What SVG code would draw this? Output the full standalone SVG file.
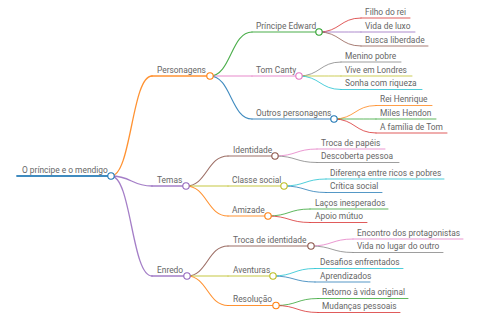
<svg xmlns="http://www.w3.org/2000/svg" width="480" height="320" viewBox="0 0 480 320">
<style>
text{font-family:Roboto,"Liberation Sans",sans-serif;font-size:8.4px;fill:#666}
path{fill:none;stroke-linecap:round;stroke-opacity:0.85}
.l1{stroke-width:1.3}.l2{stroke-width:1.1}.l3{stroke-width:0.9}
circle{fill:#fff;stroke-width:1.1}
.blue{stroke:#1f77b4}.orange{stroke:#ff7f0e}.green{stroke:#2ca02c}.red{stroke:#d62728}.purple{stroke:#9467bd}.brown{stroke:#8c564b}.pink{stroke:#e377c2}.grey{stroke:#7f7f7f}.olive{stroke:#bcbd22}.cyan{stroke:#17becf}
</style>
<rect width="480" height="320" fill="#fff"/>
<g id="connectors">
<path class="l1 orange" d="M111,176 C131.5,176 131.5,76 152,76"/>
<path class="l1 purple" d="M111,176 C131.5,176 131.5,186 152,186"/>
<path class="l1 purple" d="M111,176 C131.5,176 131.5,276 152,276"/>
<path class="l2 green" d="M210,76 C231,76 231,32 252,32"/>
<path class="l2 pink" d="M210,76 C231,76 231,76 252,76"/>
<path class="l2 blue" d="M210,76 C231,76 231,119 252,119"/>
<path class="l2 brown" d="M186,186 C207,186 207,156 228,156"/>
<path class="l2 olive" d="M186,186 C207,186 207,186 228,186"/>
<path class="l2 orange" d="M186,186 C207,186 207,216 228,216"/>
<path class="l2 brown" d="M187,276 C207.5,276 207.5,246 228,246"/>
<path class="l2 olive" d="M187,276 C207.5,276 207.5,276 228,276"/>
<path class="l2 orange" d="M187,276 C207.5,276 207.5,305.5 228,305.5"/>
<path class="l3 red" d="M319,32 C340,32 340,18 361,18"/>
<path class="l3 purple" d="M319,32 C340,32 340,32 361,32"/>
<path class="l3 brown" d="M319,32 C340,32 340,46 361,46"/>
<path class="l3 grey" d="M299,76 C320,76 320,62 341,62"/>
<path class="l3 olive" d="M299,76 C320,76 320,76 341,76"/>
<path class="l3 cyan" d="M299,76 C320,76 320,89.5 341,89.5"/>
<path class="l3 orange" d="M334,119 C355,119 355,105.5 376,105.5"/>
<path class="l3 green" d="M334,119 C355,119 355,119 376,119"/>
<path class="l3 red" d="M334,119 C355,119 355,133 376,133"/>
<path class="l3 pink" d="M275,156 C296,156 296,149 317,149"/>
<path class="l3 grey" d="M275,156 C296,156 296,162.5 317,162.5"/>
<path class="l3 cyan" d="M284,186 C305,186 305,179 326,179"/>
<path class="l3 blue" d="M284,186 C305,186 305,192.5 326,192.5"/>
<path class="l3 green" d="M268,216 C289,216 289,209 310,209"/>
<path class="l3 red" d="M268,216 C289,216 289,222.5 310,222.5"/>
<path class="l3 pink" d="M311,246 C332,246 332,239 353,239"/>
<path class="l3 grey" d="M311,246 C332,246 332,252.5 353,252.5"/>
<path class="l3 cyan" d="M273,276 C294,276 294,268.5 315,268.5"/>
<path class="l3 blue" d="M273,276 C294,276 294,282 315,282"/>
<path class="l3 green" d="M276,305.5 C297,305.5 297,298.5 318,298.5"/>
<path class="l3 red" d="M276,305.5 C297,305.5 297,312.5 318,312.5"/>
</g>
<g id="root"><path class="blue" stroke-width="1.8" d="M17,176 H111"/><text x="22" y="172.5">O príncipe e o mendigo</text><circle class="blue" cx="111" cy="176" r="3.2"/></g>
<g id="personagens"><path class="l1 orange" d="M152,76 H210"/><text x="157" y="72.5">Personagens</text><circle class="orange" cx="210" cy="76" r="3.2"/></g>
<g id="temas"><path class="l1 purple" d="M152,186 H186"/><text x="157" y="182.5">Temas</text><circle class="purple" cx="186" cy="186" r="3.2"/></g>
<g id="enredo"><path class="l1 purple" d="M152,276 H187"/><text x="157" y="272.5">Enredo</text><circle class="purple" cx="187" cy="276" r="3.2"/></g>
<g id="principe"><path class="l2 green" d="M252,32 H319"/><text x="256" y="28.5">Príncipe Edward</text><circle class="green" cx="319" cy="32" r="3.2"/></g>
<g id="tom"><path class="l2 pink" d="M252,76 H299"/><text x="256" y="72.5">Tom Canty</text><circle class="pink" cx="299" cy="76" r="3.2"/></g>
<g id="outros"><path class="l2 blue" d="M252,119 H334"/><text x="256" y="115.5">Outros personagens</text><circle class="blue" cx="334" cy="119" r="3.2"/></g>
<g id="identidade"><path class="l2 brown" d="M228,156 H275"/><text x="233" y="152.5">Identidade</text><circle class="brown" cx="275" cy="156" r="3.2"/></g>
<g id="classe"><path class="l2 olive" d="M228,186 H284"/><text x="232" y="182.5">Classe social</text><circle class="olive" cx="284" cy="186" r="3.2"/></g>
<g id="amizade"><path class="l2 orange" d="M228,216 H268"/><text x="232" y="212.5">Amizade</text><circle class="orange" cx="268" cy="216" r="3.2"/></g>
<g id="trocaid"><path class="l2 brown" d="M228,246 H311"/><text x="233" y="242.5">Troca de identidade</text><circle class="brown" cx="311" cy="246" r="3.2"/></g>
<g id="aventuras"><path class="l2 olive" d="M228,276 H273"/><text x="233" y="272.5">Aventuras</text><circle class="olive" cx="273" cy="276" r="3.2"/></g>
<g id="resolucao"><path class="l2 orange" d="M228,305.5 H276"/><text x="233" y="302">Resolução</text><circle class="orange" cx="276" cy="305.5" r="3.2"/></g>
<g id="filho"><path class="l3 red" d="M361,18 H410"/><text x="365" y="14.5">Filho do rei</text></g>
<g id="vidaluxo"><path class="l3 purple" d="M361,32 H415"/><text x="365" y="28.5">Vida de luxo</text></g>
<g id="busca"><path class="l3 brown" d="M361,46 H428"/><text x="365" y="42.5">Busca liberdade</text></g>
<g id="menino"><path class="l3 grey" d="M341,62 H401"/><text x="345" y="58.5">Menino pobre</text></g>
<g id="vive"><path class="l3 olive" d="M341,76 H412"/><text x="345" y="72.5">Vive em Londres</text></g>
<g id="sonha"><path class="l3 cyan" d="M341,89.5 H422"/><text x="345" y="86">Sonha com riqueza</text></g>
<g id="rei"><path class="l3 orange" d="M376,105.5 H432"/><text x="380" y="102">Rei Henrique</text></g>
<g id="miles"><path class="l3 green" d="M376,119 H436"/><text x="380" y="115.5">Miles Hendon</text></g>
<g id="familia"><path class="l3 red" d="M376,133 H447"/><text x="380" y="129.5">A família de Tom</text></g>
<g id="trocapapeis"><path class="l3 pink" d="M317,149 H385"/><text x="321" y="145.5">Troca de papéis</text></g>
<g id="descoberta"><path class="l3 grey" d="M317,162.5 H399"/><text x="321" y="159">Descoberta pessoa</text></g>
<g id="diferenca"><path class="l3 cyan" d="M326,179 H444"/><text x="330" y="175.5">Diferença entre ricos e pobres</text></g>
<g id="critica"><path class="l3 blue" d="M326,192.5 H382"/><text x="330" y="189">Crítica social</text></g>
<g id="lacos"><path class="l3 green" d="M310,209 H388"/><text x="315" y="205.5">Laços inesperados</text></g>
<g id="apoio"><path class="l3 red" d="M310,222.5 H367"/><text x="315" y="219">Apoio mútuo</text></g>
<g id="encontro"><path class="l3 pink" d="M353,239 H463"/><text x="357" y="235.5">Encontro dos protagonistas</text></g>
<g id="vidalugar"><path class="l3 grey" d="M353,252.5 H443"/><text x="357" y="249">Vida no lugar do outro</text></g>
<g id="desafios"><path class="l3 cyan" d="M315,268.5 H403"/><text x="320" y="265">Desafios enfrentados</text></g>
<g id="aprendizados"><path class="l3 blue" d="M315,282 H370"/><text x="320" y="278.5">Aprendizados</text></g>
<g id="retorno"><path class="l3 green" d="M318,298.5 H408"/><text x="322" y="295">Retorno à vida original</text></g>
<g id="mudancas"><path class="l3 red" d="M318,312.5 H400"/><text x="322" y="309">Mudanças pessoais</text></g>
</svg>
